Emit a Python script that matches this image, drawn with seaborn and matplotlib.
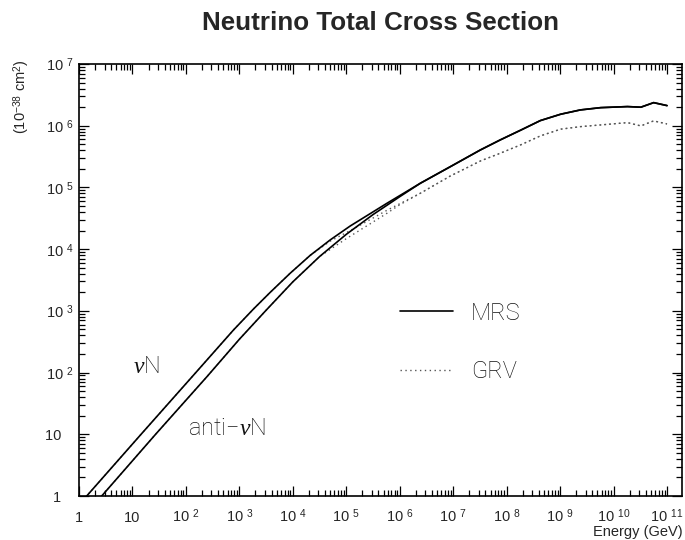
import matplotlib
matplotlib.use("Agg")
import matplotlib.pyplot as plt
from matplotlib.lines import Line2D
from matplotlib.ticker import FixedLocator, LogLocator, NullFormatter
import pandas as pd
import seaborn as sns

# ---- data (Energy in GeV, sigma in 1e-38 cm^2) ----
energy_mrs_nu = [1, 1.393, 14.49, 153.1, 776.2, 1837, 3776, 8933, 21180, 50120,
                 118850, 578100, 2.432e6, 8.872e6, 3.236e7, 7.586e7, 1.820e8,
                 4.266e8, 1.023e9, 2.399e9, 5.754e9, 1.820e10, 3.236e10, 5.623e10, 1e11]
sigma_mrs_nu = [0.72, 1.0, 10, 100, 489.8, 1072, 1995, 4074, 7943, 14125,
                23770, 55460, 116950, 217300, 405500, 588800, 845300,
                1.211e6, 1.535e6, 1.803e6, 1.963e6, 2.042e6, 1.995e6, 2.366e6, 2.118e6]

energy_mrs_anu = [1, 2.66, 27.1, 251.2, 1000, 3162, 10000, 31620, 1e5, 316200,
                  1e6, 2.432e6, 8.872e6, 3.236e7, 7.586e7, 1.820e8,
                  4.266e8, 1.023e9, 2.399e9, 5.754e9, 1.820e10, 3.236e10, 5.623e10, 1e11]
sigma_mrs_anu = [0.38, 1.0, 10, 87.1, 346.7, 1023, 2951, 7586, 17380, 36300,
                 70800, 116950, 217300, 405500, 588800, 845300,
                 1.211e6, 1.535e6, 1.803e6, 1.963e6, 2.042e6, 1.995e6, 2.366e6, 2.118e6]

energy_grv_nu = [1, 1.393, 14.49, 153.1, 776.2, 1837, 3776, 8933, 21180, 50120,
                 137100, 578100, 2.432e6, 8.872e6, 3.236e7, 7.586e7, 1.820e8,
                 4.266e8, 1.023e9, 2.399e9, 5.754e9, 1.820e10, 3.236e10, 5.623e10, 1e11]
sigma_grv_nu = [0.72, 1.0, 10, 100, 489.8, 1072, 1995, 4074, 7943, 13490,
                21380, 42660, 80540, 153500, 268500, 358100, 488700,
                683900, 879000, 966100, 1.030e6, 1.122e6, 0.993e6, 1.197e6, 1.069e6]

energy_grv_anu = [1, 2.66, 27.1, 251.2, 1000, 3162, 10000, 31620, 1e5, 316200,
                  578100, 1e6, 2.432e6, 8.872e6, 3.236e7, 7.586e7, 1.820e8,
                  4.266e8, 1.023e9, 2.399e9, 5.754e9, 1.820e10, 3.236e10, 5.623e10, 1e11]
sigma_grv_anu = [0.38, 1.0, 10, 87.1, 346.7, 1023, 2951, 7586, 14790, 27540,
                 38190, 52480, 80540, 153500, 268500, 358100, 488700,
                 683900, 879000, 966100, 1.030e6, 1.122e6, 0.993e6, 1.197e6, 1.069e6]

x_tick_values = [10.0 ** k for k in range(0, 12)]
x_tick_labels = ["1", "10"] + [f"10 $^{{{k}}}$" for k in range(2, 12)]
y_tick_values = [10.0 ** k for k in range(0, 8)]
y_tick_labels = ["1   ", "10   "] + [f"10 $^{{{k}}}$" for k in range(2, 8)]

title = "Neutrino Total Cross Section"
x_label = "Energy (GeV)"
y_label = "(10$^{-38}$ cm$^{2}$)"
legend_labels = ["MRS", "GRV"]

# ---- style ----
sns.set_style("ticks")
plt.rcParams["font.family"] = ["Liberation Sans", "DejaVu Sans"]
plt.rcParams["mathtext.fontset"] = "custom"
plt.rcParams["mathtext.rm"] = "Liberation Sans"
plt.rcParams["mathtext.it"] = "Liberation Serif:italic"
plt.rcParams["mathtext.bf"] = "Liberation Sans:bold"

fig = plt.figure(figsize=(6.85, 5.4), dpi=100)
ax = fig.add_axes([79 / 685, 44 / 540, 603 / 685, 432 / 540])

solid_kw = dict(color="black", linewidth=1.2, estimator=None, sort=False, ax=ax)
dot_kw = dict(color="#555555", linewidth=1.0, estimator=None, sort=False, ax=ax,
              linestyle=(0, (1, 2.5)))

sns.lineplot(data=pd.DataFrame({"E": energy_grv_nu, "s": sigma_grv_nu}), x="E", y="s", **dot_kw)
sns.lineplot(data=pd.DataFrame({"E": energy_grv_anu, "s": sigma_grv_anu}), x="E", y="s", **dot_kw)
sns.lineplot(data=pd.DataFrame({"E": energy_mrs_nu, "s": sigma_mrs_nu}), x="E", y="s", **solid_kw)
sns.lineplot(data=pd.DataFrame({"E": energy_mrs_anu, "s": sigma_mrs_anu}), x="E", y="s", **solid_kw)

ax.set_xscale("log")
ax.set_yscale("log")
ax.set_xlim(1, 10 ** 11.28)
ax.set_ylim(1, 1e7)

ax.xaxis.set_major_locator(FixedLocator(x_tick_values))
ax.yaxis.set_major_locator(FixedLocator(y_tick_values))
ax.xaxis.set_minor_locator(LogLocator(base=10, subs=range(2, 10), numticks=100))
ax.yaxis.set_minor_locator(LogLocator(base=10, subs=range(2, 10), numticks=100))
ax.xaxis.set_minor_formatter(NullFormatter())
ax.yaxis.set_minor_formatter(NullFormatter())

ax.tick_params(which="both", direction="in", top=True, right=True, color="black", width=0.9)
ax.tick_params(which="major", length=7.5)
ax.tick_params(which="minor", length=4.0)
ax.tick_params(axis="x", which="major", labelsize=10.5, pad=18.5)
ax.tick_params(axis="y", which="major", labelsize=10.5, pad=4)
ax.set_xticklabels(x_tick_labels, va="baseline")
ax.set_yticklabels(y_tick_labels)
for sp in ax.spines.values():
    sp.set_linewidth(1.2)
    sp.set_color("black")
ax.set_xlabel("")
ax.set_ylabel("")

fig.text(380.5 / 685, 1 - 23 / 540, title, ha="center", va="center", fontsize=18.7, fontweight="bold")
fig.text(683 / 685, 1 - 532 / 540, x_label, ha="right", va="center", fontsize=10.5)
fig.text(22 / 685, 1 - 97 / 540, y_label, ha="center", va="center", rotation=90, fontsize=10.5)

thin = dict(family=["Roboto", "DejaVu Sans"], fontweight="light", fontsize=17, color="#111111")
ax.text(10.3, 98.6, r"$\nu$N", ha="left", va="baseline", **thin)
ax.text(110, 9.75, "anti\u2212$\\nu$N", ha="left", va="baseline", **thin)

handles = [Line2D([], [], color="black", linewidth=1.2),
           Line2D([], [], color="#555555", linewidth=1.0, linestyle=(0, (1, 2.5)))]
leg = ax.legend(handles, legend_labels, loc="center left", bbox_to_anchor=(0.532, 0.356),
                frameon=False, borderpad=0, borderaxespad=0, handlelength=2.25,
                handletextpad=0.75, labelspacing=1.5,
                prop={"family": ["Roboto", "DejaVu Sans"], "weight": "light", "size": 17})
for t in leg.get_texts():
    t.set_color("#111111")

fig.savefig("out.png", dpi=100)
